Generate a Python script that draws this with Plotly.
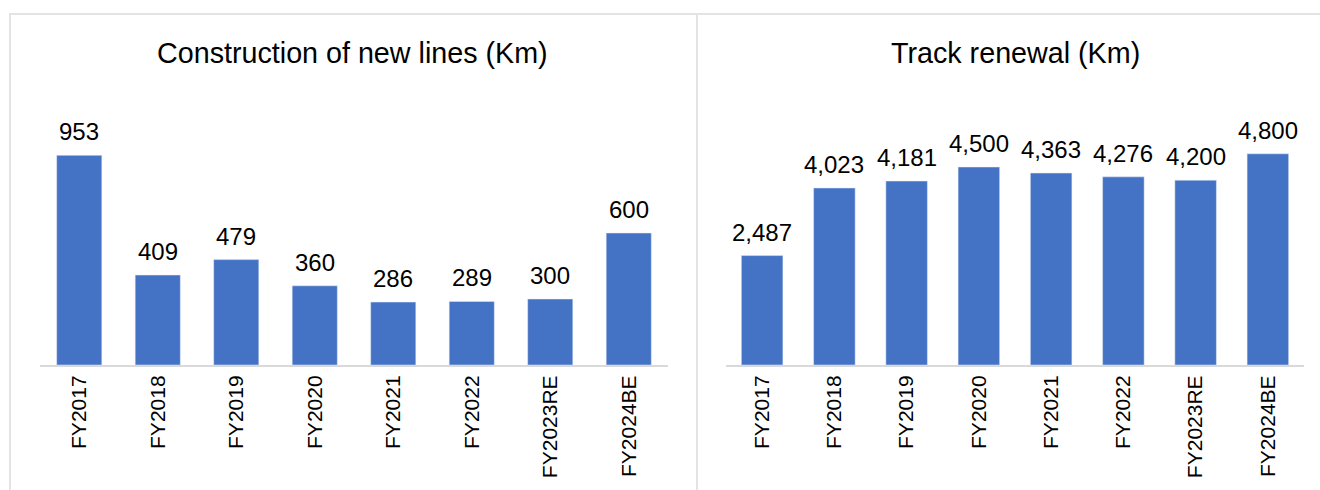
import plotly.graph_objects as go

categories = ["FY2017", "FY2018", "FY2019", "FY2020", "FY2021", "FY2022", "FY2023RE", "FY2024BE"]
new_lines = [953, 409, 479, 360, 286, 289, 300, 600]
track_renewal = [2487, 4023, 4181, 4500, 4363, 4276, 4200, 4800]
titles = ["Construction of new lines (Km)", "Track renewal (Km)"]

W, H = 1320, 490
BAR = "#4472C4"
FONT = "Liberation Sans, Arial, sans-serif"

def px(x):
    return x / W

def py(y):
    return 1 - y / H

fig = go.Figure()
fig.add_trace(go.Bar(x=categories, y=new_lines, marker_color=BAR, width=0.575,
                     xaxis="x", yaxis="y", showlegend=False, hoverinfo="x+y"))
fig.add_trace(go.Bar(x=categories, y=track_renewal, marker_color=BAR, width=0.575,
                     xaxis="x2", yaxis="y2", showlegend=False, hoverinfo="x+y"))

annotations = []
for xa, ya, vals in (("x", "y", new_lines), ("x2", "y2", track_renewal)):
    for c, v in zip(categories, vals):
        annotations.append(dict(x=c, y=v, xref=xa, yref=ya, text=f"{v:,}",
                                showarrow=False, yanchor="bottom", yshift=8,
                                font=dict(family=FONT, size=24, color="#000000")))

annotations.append(dict(x=px(353), y=py(53), xref="paper", yref="paper", text=titles[0],
                        showarrow=False, xanchor="center", yanchor="middle",
                        font=dict(family=FONT, size=28.7, color="#000000")))
annotations.append(dict(x=px(1015), y=py(53), xref="paper", yref="paper", text=titles[1],
                        showarrow=False, xanchor="center", yanchor="middle",
                        font=dict(family=FONT, size=28.7, color="#000000")))

axis_common = dict(showgrid=False, zeroline=False, showline=True, linecolor="#d9d9d9",
                   linewidth=2, ticks="", tickangle=-90,
                   tickfont=dict(family=FONT, size=21, color="#000000"))
yaxis_common = dict(showgrid=False, zeroline=False, showline=False, showticklabels=False,
                    domain=[py(365), py(101)])

fig.update_layout(
    width=W, height=H,
    margin=dict(l=0, r=0, t=0, b=0),
    paper_bgcolor="#ffffff", plot_bgcolor="#ffffff",
    xaxis=dict(domain=[px(40), px(668)], anchor="y", **axis_common),
    xaxis2=dict(domain=[px(726), px(1304)], anchor="y2", **axis_common),
    yaxis=dict(range=[0, 1200], anchor="x", **yaxis_common),
    yaxis2=dict(range=[0, 6000], anchor="x2", **yaxis_common),
    annotations=annotations,
    shapes=[
        dict(type="rect", xref="paper", yref="paper", x0=px(10), x1=px(697),
             y0=-0.05, y1=py(14), line=dict(color="#e3e3e3", width=2), layer="below"),
        dict(type="rect", xref="paper", yref="paper", x0=px(697), x1=1.05,
             y0=-0.05, y1=py(14), line=dict(color="#e3e3e3", width=2), layer="below"),
    ],
)

fig.write_html(
    "out.html",
    config={"displayModeBar": False},
    post_script="document.body.style.margin='0px';document.body.style.overflow='hidden';",
)
